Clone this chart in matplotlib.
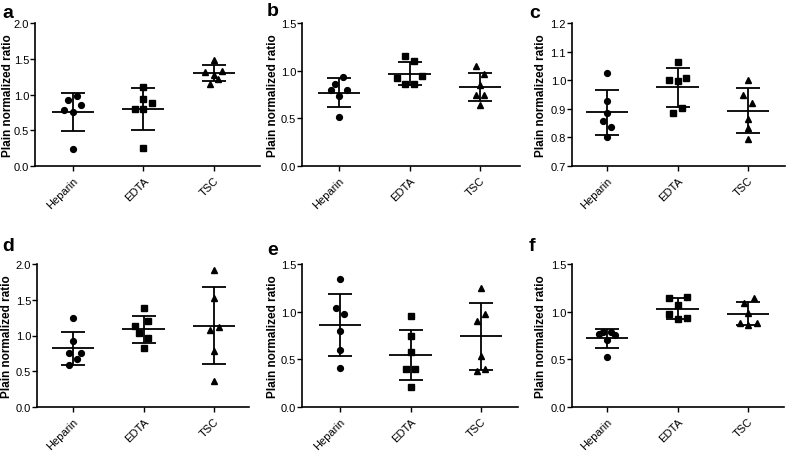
import matplotlib
matplotlib.use("Agg")
import matplotlib.pyplot as plt

plt.rcParams['font.family'] = ['Liberation Sans', 'DejaVu Sans']

groups = ['Heparin', 'EDTA', 'TSC']
panel_letters = ['a', 'b', 'c', 'd', 'e', 'f']
ylabel_text = 'Plain normalized ratio'

# --- values per panel: [Heparin, EDTA, TSC] ---
a_vals = [[0.93, 0.98, 0.79, 0.85, 0.76, 0.24],
          [1.11, 0.94, 0.80, 0.88, 0.80, 0.25],
          [1.48, 1.31, 1.27, 1.33, 1.22, 1.15]]
a_mean = [0.76, 0.80, 1.30]
a_sd = [0.265, 0.29, 0.11]

b_vals = [[0.86, 0.93, 0.80, 0.80, 0.73, 0.51],
          [1.15, 1.10, 0.92, 0.94, 0.855, 0.855],
          [1.05, 0.96, 0.85, 0.74, 0.74, 0.64]]
b_mean = [0.77, 0.97, 0.83]
b_sd = [0.15, 0.125, 0.15]

c_vals = [[1.024, 0.927, 0.885, 0.857, 0.838, 0.800],
          [1.064, 0.999, 0.996, 1.006, 0.903, 0.886],
          [1.001, 0.950, 0.921, 0.865, 0.832, 0.796]]
c_mean = [0.888, 0.975, 0.894]
c_sd = [0.078, 0.067, 0.077]

d_vals = [[1.24, 0.92, 0.76, 0.76, 0.67, 0.59],
          [1.39, 1.20, 1.13, 1.03, 0.965, 0.83],
          [1.91, 1.53, 1.07, 1.12, 0.78, 0.36]]
d_mean = [0.82, 1.085, 1.135]
d_sd = [0.23, 0.19, 0.54]

e_vals = [[1.34, 1.04, 0.98, 0.80, 0.60, 0.41],
          [0.95, 0.75, 0.58, 0.40, 0.40, 0.21],
          [1.25, 0.98, 0.90, 0.53, 0.38, 0.40]]
e_mean = [0.86, 0.546, 0.74]
e_sd = [0.33, 0.265, 0.35]

f_vals = [[0.77, 0.785, 0.785, 0.76, 0.70, 0.525],
          [1.144, 1.158, 1.067, 0.977, 0.921, 0.931],
          [1.144, 1.088, 0.987, 0.882, 0.882, 0.855]]
f_mean = [0.722, 1.033, 0.978]
f_sd = [0.10, 0.108, 0.12]

# horizontal scatter offsets (in category units) for each point
a_off = [[-0.06, 0.06, -0.12, 0.12, 0, 0], [0, 0, -0.12, 0.12, 0, 0], [0, -0.12, 0, 0.11, 0.06, -0.06]]
b_off = [[-0.06, 0.06, -0.12, 0.12, 0, 0], [-0.06, 0.06, -0.18, 0.18, -0.06, 0.06], [-0.06, 0.06, 0, -0.06, 0.06, 0]]
c_off = [[0, 0, 0, -0.06, 0.06, 0], [0, -0.12, 0, 0.12, 0.06, -0.06], [0, -0.07, 0.06, 0, 0, 0]]
d_off = [[0, 0, -0.06, 0.12, 0.06, -0.06], [0, 0.06, -0.12, -0.06, 0.06, 0], [0, 0, -0.06, 0.07, 0, 0]]
e_off = [[0, -0.06, 0.06, 0, 0, 0], [0, 0, 0, -0.06, 0.06, 0], [0, 0.06, -0.06, 0, -0.06, 0.06]]
f_off = [[-0.12, -0.06, 0.06, 0.12, 0, 0], [-0.12, 0.13, 0, -0.12, 0, 0.13], [0.08, -0.06, 0, -0.11, 0.13, 0]]

a_ylim, a_yticks = (0, 2.0), [0.0, 0.5, 1.0, 1.5, 2.0]
b_ylim, b_yticks = (0, 1.5), [0.0, 0.5, 1.0, 1.5]
c_ylim, c_yticks = (0.7, 1.2), [0.7, 0.8, 0.9, 1.0, 1.1, 1.2]
d_ylim, d_yticks = (0, 2.0), [0.0, 0.5, 1.0, 1.5, 2.0]
e_ylim, e_yticks = (0, 1.5), [0.0, 0.5, 1.0, 1.5]
f_ylim, f_yticks = (0, 1.5), [0.0, 0.5, 1.0, 1.5]

panels = [
    (a_vals, a_off, a_mean, a_sd, a_ylim, a_yticks),
    (b_vals, b_off, b_mean, b_sd, b_ylim, b_yticks),
    (c_vals, c_off, c_mean, c_sd, c_ylim, c_yticks),
    (d_vals, d_off, d_mean, d_sd, d_ylim, d_yticks),
    (e_vals, e_off, e_mean, e_sd, e_ylim, e_yticks),
    (f_vals, f_off, f_mean, f_sd, f_ylim, f_yticks),
]

W, H = 786, 452
fig = plt.figure(figsize=(W / 100, H / 100), dpi=100)

# layout in pixels: left, right, top, bottom, first tick x, label right-edge x, letter x, letter y
layout = [
    (35, 260, 24, 167, 72.7, 14, 2, 5),
    (302, 520, 24, 167, 339, 279, 267, 3),
    (572, 785, 24, 167, 607, 547, 529, 5),
    (37, 249, 265, 408, 73, 13, 2, 238),
    (302, 518, 265, 408, 340, 279, 267, 242),
    (572, 784, 265, 408, 607, 547, 529, 238),
]
spacing = 70.6
markers = ['o', 's', '^']
msizes = [4.2, 4.0, 4.4]

for (vals, offs, means, sds, ylim, yticks), (l, r, t, b, t0, lx, ltx, lty), letter in zip(panels, layout, panel_letters):
    ax = fig.add_axes([l / W, 1 - b / H, (r - l) / W, (b - t) / H])
    xlo = -(t0 - l) / spacing
    xhi = (r - t0) / spacing
    for gi in range(3):
        xs = [gi + o for o in offs[gi]]
        ax.plot(xs, vals[gi], linestyle='none', marker=markers[gi], ms=msizes[gi],
                color='black', zorder=3)
        m, s = means[gi], sds[gi]
        ax.hlines(m, gi - 0.3, gi + 0.3, color='black', lw=1.3, zorder=2)
        ax.vlines(gi, m - s, m + s, color='black', lw=1.3, zorder=2)
        ax.hlines([m - s, m + s], gi - 0.17, gi + 0.17, color='black', lw=1.3, zorder=2)
    ax.set_xlim(xlo, xhi)
    ax.set_ylim(*ylim)
    ax.set_yticks(yticks)
    ax.set_yticklabels(['%.1f' % v for v in yticks], fontsize=8)
    ax.set_xticks(range(3))
    ax.set_xticklabels(groups, rotation=45, ha='right', va='top',
                       rotation_mode='anchor', fontsize=8)
    for sp in ['top', 'right']:
        ax.spines[sp].set_visible(False)
    for sp in ['left', 'bottom']:
        ax.spines[sp].set_linewidth(1.2)
    ax.tick_params(axis='both', direction='out', length=3.5, width=1.0, pad=0.8, colors='black')
    ax.tick_params(axis='x', pad=3)
    ax.set_ylabel(ylabel_text, fontsize=8.5, fontweight='bold')
    ax.yaxis.set_label_coords((lx - l) / (r - l), 0.5)
    ax.patch.set_alpha(0)
    fig.text(ltx / W, 1 - lty / H, letter, fontsize=14, fontweight='bold', ha='left', va='top')

fig.savefig('out.png', dpi=100)
